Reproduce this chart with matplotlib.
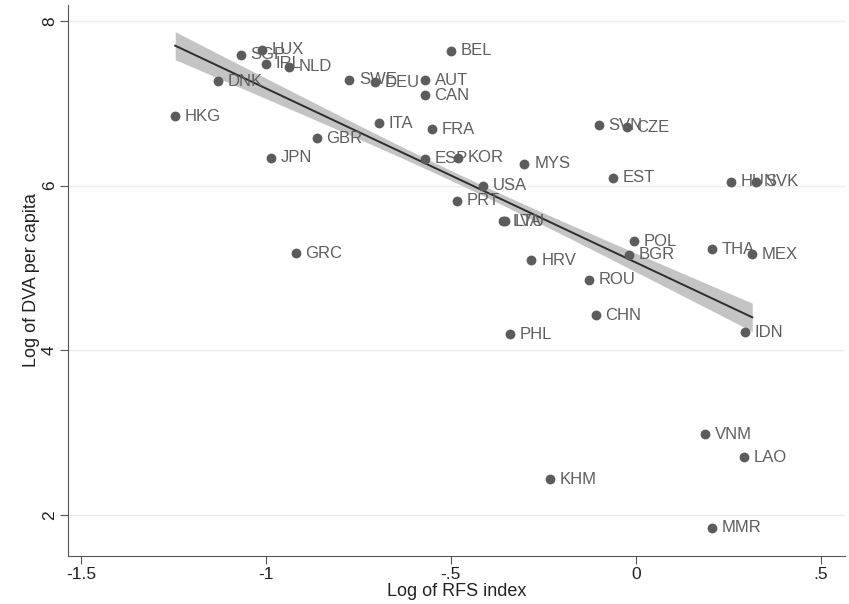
import numpy as np
import matplotlib
matplotlib.use('Agg')
import matplotlib.pyplot as plt

plt.rcParams['font.family'] = ['Liberation Sans', 'DejaVu Sans']

# log of RFS index / log of DVA per capita
countries = ['HKG', 'DNK', 'SGP', 'LUX', 'IRL', 'NLD', 'SWE', 'DEU', 'AUT', 'CAN',
             'BEL', 'ITA', 'FRA', 'GBR', 'JPN', 'GRC', 'ESP', 'KOR', 'MYS', 'USA',
             'PRT', 'LVA', 'LTU', 'SVN', 'CZE', 'EST', 'HUN', 'SVK', 'POL', 'BGR',
             'THA', 'MEX', 'HRV', 'ROU', 'CHN', 'PHL', 'IDN', 'VNM', 'LAO', 'KHM',
             'MMR']
rfs = [-1.245, -1.129, -1.067, -1.011, -1.000, -0.938, -0.774, -0.704, -0.570, -0.570,
       -0.500, -0.694, -0.551, -0.863, -0.987, -0.919, -0.570, -0.481, -0.301, -0.414,
       -0.484, -0.358, -0.354, -0.100, -0.024, -0.062, 0.258, 0.325, -0.005, -0.019,
       0.207, 0.315, -0.282, -0.126, -0.108, -0.339, 0.296, 0.188, 0.293, -0.231,
       0.207]
dva = [6.843, 7.265, 7.590, 7.650, 7.480, 7.446, 7.289, 7.253, 7.277, 7.096,
       7.639, 6.759, 6.687, 6.578, 6.337, 5.181, 6.325, 6.337, 6.265, 6.000,
       5.819, 5.566, 5.566, 6.735, 6.711, 6.096, 6.048, 6.048, 5.325, 5.157,
       5.229, 5.169, 5.096, 4.855, 4.422, 4.193, 4.217, 2.976, 2.699, 2.434,
       1.843]

# fitted line and its 95% band as drawn in the reference
fit_x = [-1.245, 0.315]
fit_y = [7.70, 4.40]
band_min_x = -0.47   # narrowest point of the band
band_min_half = 0.06
band_end_half = 0.17

x = np.array(rfs)
y = np.array(dva)

xs = np.linspace(fit_x[0], fit_x[1], 200)
fit = np.interp(xs, fit_x, fit_y)
k2 = (band_end_half ** 2 - band_min_half ** 2) / (fit_x[0] - band_min_x) ** 2
half = np.sqrt(band_min_half ** 2 + k2 * (xs - band_min_x) ** 2)

fig = plt.figure(figsize=(8.49, 6.04), dpi=100)
ax = fig.add_axes([0.080, 0.0795, 0.915, 0.913])

ax.fill_between(xs, fit - half, fit + half, color='#c4c4c4', lw=0, zorder=1)
ax.plot(xs, fit, color='#2e2e2e', lw=1.4, zorder=2)
ax.scatter(x, y, s=50, color='#5c5c5c', lw=0, zorder=3)
for cx, cy, name in zip(x, y, countries):
    ax.annotate(name, (cx, cy), xytext=(7, 0), textcoords='offset points',
                va='center', ha='left', fontsize=12, color='#5e5e5e', zorder=4)

ax.set_xlim(-1.535, 0.565)
ax.set_ylim(1.5, 8.2)
ax.set_xticks([-1.5, -1, -0.5, 0, 0.5])
ax.set_xticklabels(['-1.5', '-1', '-.5', '0', '.5'])
ax.set_yticks([2, 4, 6, 8])
ax.set_yticklabels(['2', '4', '6', '8'], rotation=90, va='center')
ax.grid(axis='y', color='#ececec', lw=1)
ax.set_axisbelow(True)
for side in ['top', 'right']:
    ax.spines[side].set_visible(False)
for side in ['left', 'bottom']:
    ax.spines[side].set_color('#555555')
ax.tick_params(length=6, color='#555555', labelsize=12.5, labelcolor='#222222', pad=2)
ax.set_xlabel('Log of RFS index', fontsize=13, color='#222222', labelpad=1)
ax.set_ylabel('Log of DVA per capita', fontsize=13, color='#222222', labelpad=1)

fig.savefig('out.png', dpi=100)
